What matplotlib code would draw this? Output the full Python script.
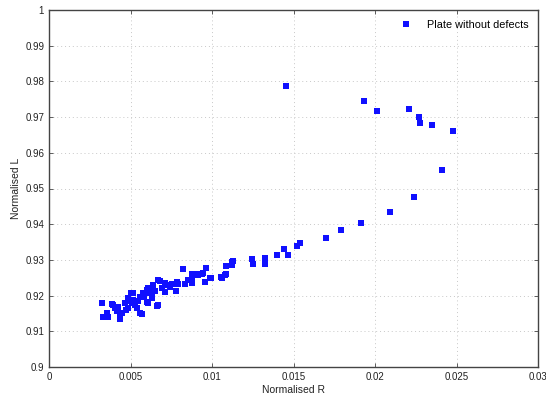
import matplotlib
matplotlib.use("Agg")
import matplotlib.pyplot as plt
from matplotlib.ticker import FixedLocator, FixedFormatter

plt.rcParams['font.family'] = ['Liberation Sans', 'DejaVu Sans']

# Normalised R / Normalised L
norm_r = [0.01454, 0.01931, 0.02010, 0.02209, 0.02270, 0.02276, 0.02348, 0.02481,
          0.02409, 0.02241, 0.02092, 0.01914, 0.01793, 0.01699, 0.01540, 0.01520,
          0.01442, 0.01464, 0.01399, 0.01323, 0.01323, 0.01247, 0.01253, 0.01127,
          0.01123, 0.01084, 0.01084, 0.01057, 0.00961, 0.00937, 0.00996, 0.00957,
          0.00906, 0.00880, 0.00875, 0.00824, 0.00879, 0.00834, 0.00779, 0.00793,
          0.00753, 0.00722, 0.00681, 0.00712, 0.00691, 0.00640, 0.00620, 0.00600,
          0.00665, 0.00620, 0.00579, 0.00610, 0.00569, 0.00517, 0.00323, 0.00329,
          0.00364, 0.00385, 0.00436, 0.00436, 0.00405, 0.00354, 0.00395, 0.00425,
          0.00446, 0.00466, 0.00487, 0.00503, 0.00517, 0.00538, 0.00558, 0.00558,
          0.00589, 0.00610, 0.00600, 0.00630, 0.00487, 0.00507, 0.00670, 0.00712,
          0.00783, 0.00855, 0.00916, 0.00640, 0.00670, 0.00630, 0.00947, 0.00988,
          0.01060, 0.01080, 0.01244, 0.01125, 0.00545, 0.00470, 0.00580, 0.00525,
          0.00415, 0.00740, 0.00650, 0.00495]
norm_l = [0.9787, 0.9745, 0.9718, 0.9724, 0.9700, 0.9684, 0.9678, 0.9662,
          0.9552, 0.9477, 0.9433, 0.9403, 0.9385, 0.9362, 0.9347, 0.9340,
          0.9330, 0.9315, 0.9314, 0.9304, 0.9289, 0.9303, 0.9289, 0.9298,
          0.9287, 0.9282, 0.9260, 0.9252, 0.9278, 0.9261, 0.9250, 0.9238,
          0.9260, 0.9260, 0.9244, 0.9275, 0.9234, 0.9232, 0.9213, 0.9232,
          0.9232, 0.9230, 0.9242, 0.9211, 0.9220, 0.9230, 0.9220, 0.9216,
          0.9171, 0.9206, 0.9206, 0.9178, 0.9148, 0.9206, 0.9178, 0.9139,
          0.9139, 0.9176, 0.9134, 0.9150, 0.9164, 0.9150, 0.9174, 0.9169,
          0.9150, 0.9178, 0.9164, 0.9206, 0.9188, 0.9164, 0.9150, 0.9197,
          0.9206, 0.9220, 0.9183, 0.9197, 0.9192, 0.9178, 0.9244, 0.9234,
          0.9239, 0.9244, 0.9258, 0.9225, 0.9174, 0.9192, 0.9262, 0.9248,
          0.9250, 0.9258, 0.9303, 0.9295, 0.9185, 0.9160, 0.9195, 0.9175,
          0.9158, 0.9225, 0.9212, 0.9185]

x_ticks = [0, 0.005, 0.01, 0.015, 0.02, 0.025, 0.03]
x_labels = ['0', '0.005', '0.01', '0.015', '0.02', '0.025', '0.03']
y_ticks = [0.9, 0.91, 0.92, 0.93, 0.94, 0.95, 0.96, 0.97, 0.98, 0.99, 1.0]
y_labels = ['0.9', '0.91', '0.92', '0.93', '0.94', '0.95', '0.96', '0.97', '0.98', '0.99', '1']

fig = plt.figure(figsize=(5.46, 4.03), dpi=100)
ax = fig.add_axes([49/546, 36/403, 489/546, 357/403])

ax.plot(norm_r, norm_l, 's', color='#1010ff', markersize=5.0, markeredgewidth=0,
        label='Plate without defects')

ax.set_xlim(0, 0.03)
ax.set_ylim(0.9, 1.0)
ax.xaxis.set_major_locator(FixedLocator(x_ticks))
ax.xaxis.set_major_formatter(FixedFormatter(x_labels))
ax.yaxis.set_major_locator(FixedLocator(y_ticks))
ax.yaxis.set_major_formatter(FixedFormatter(y_labels))
ax.tick_params(direction='in', top=True, right=True, labelsize=7, length=3,
               width=0.6, colors='#444444', labelcolor='#222222')
ax.grid(True, linestyle=(0, (1, 3)), color='#c8c8c8', linewidth=0.7)
for s in ax.spines.values():
    s.set_color('#444444')
    s.set_linewidth(1.0)

ax.set_xlabel('Normalised R', fontsize=7.5, color='#222222', labelpad=2)
ax.set_ylabel('Normalised L', fontsize=7.5, color='#222222', labelpad=3)

ax.legend(loc='upper right', frameon=False, fontsize=7.8, handletextpad=0.9,
          markerscale=0.9, borderaxespad=0.5)

fig.savefig('out.png', dpi=100)
